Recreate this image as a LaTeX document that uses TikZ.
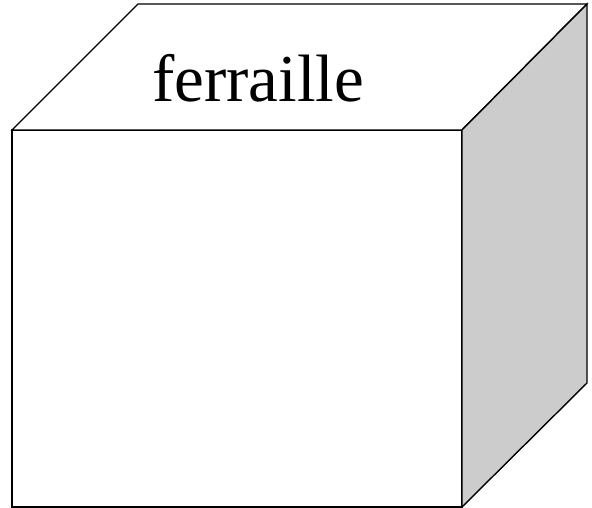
\documentclass[tikz,border=0pt]{standalone}
\usepackage{fontspec}
\setmainfont{Liberation Serif}
\usepackage{tikz}
\definecolor{sidegray}{HTML}{CCCCCC}
\tikzset{
  face/.style={draw=black,line width=1.4pt,line join=miter,fill=white},
  facesh/.style={face,fill=sidegray},
  lidlab/.style={font=\fontsize{67}{70}\selectfont,inner sep=0pt,anchor=base},
}

\begin{document}
\begin{tikzpicture}[x=1pt,y=1pt]
  \useasboundingbox (0,0) rectangle (592,508);
  % corners of the box
  \coordinate (fbl) at (12,1);
  \coordinate (fbr) at (462,1);
  \coordinate (ftr) at (462,378);
  \coordinate (ftl) at (12,378);
  \coordinate (btl) at (138,504);
  \coordinate (btr) at (587,504);
  \coordinate (bbr) at (587,125);
  \draw[face](fbl)--(fbr)--(ftr)--(ftl)--cycle;
  \draw[face](ftl)--(btl)--(btr)--(ftr)--cycle;
  \draw[facesh](fbr)--(ftr)--(btr)--(bbr)--cycle;
  \node[lidlab](lab) at (258,406){ferraille};
\end{tikzpicture}
\end{document}
